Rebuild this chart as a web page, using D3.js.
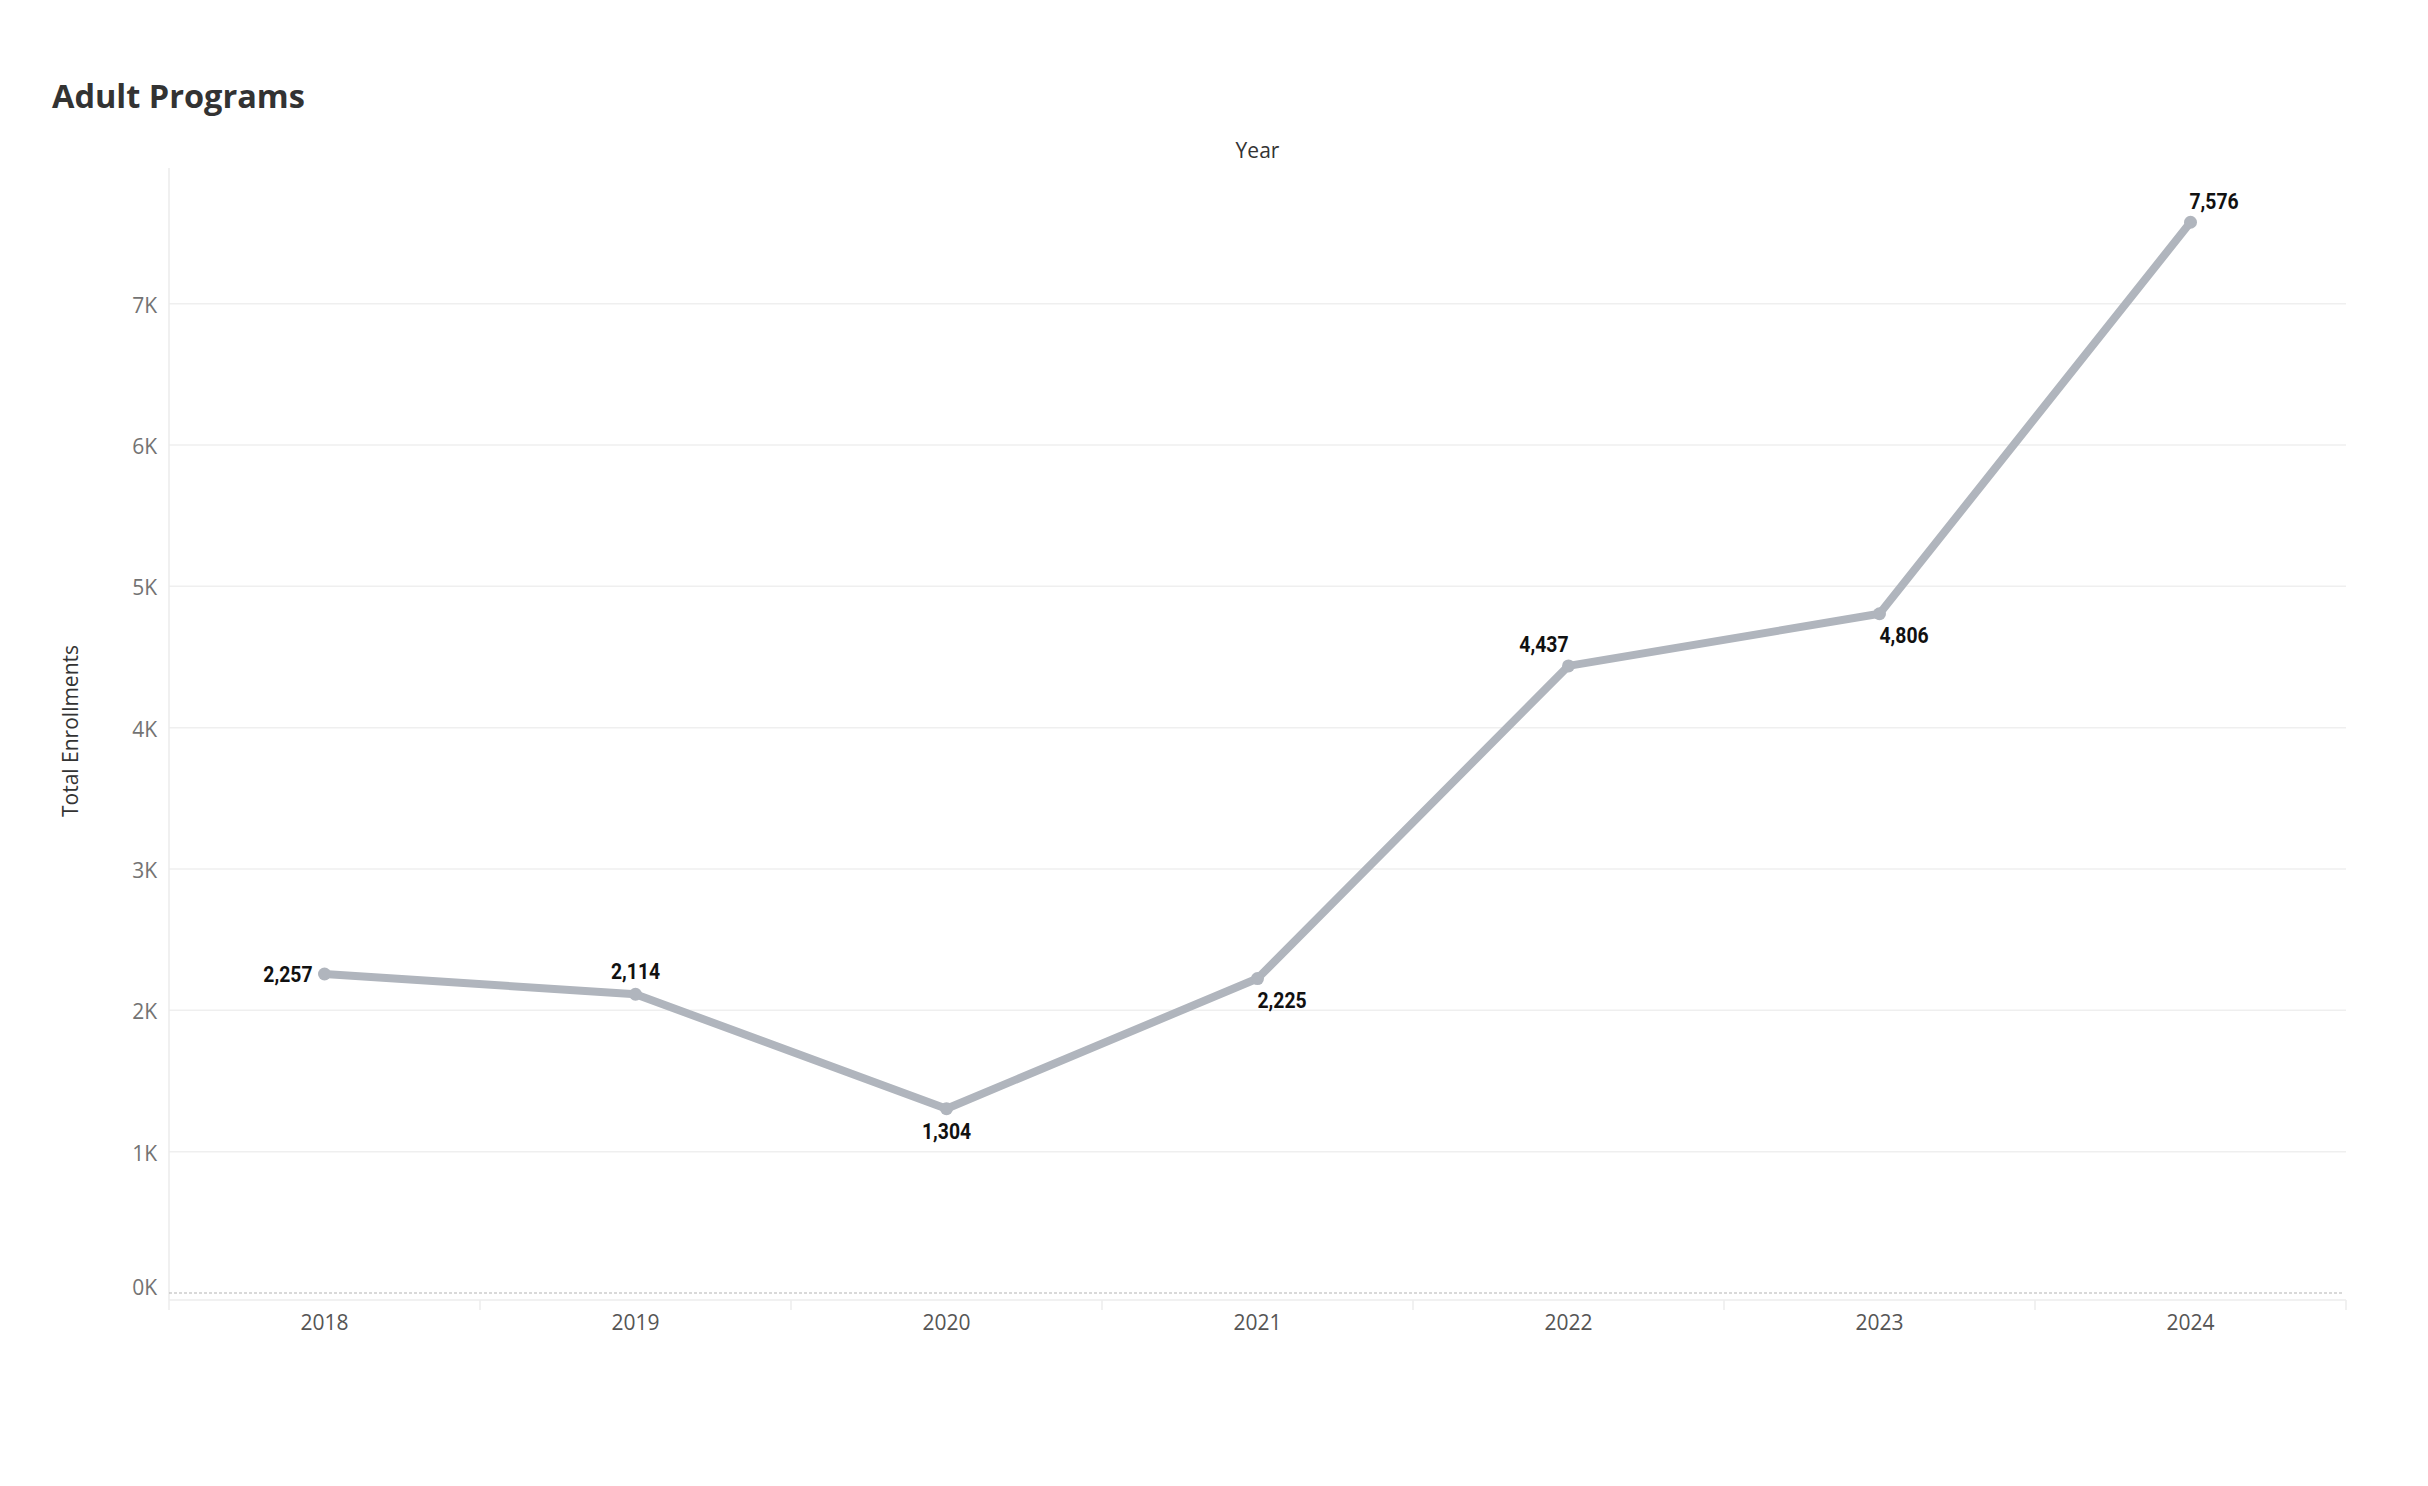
<!DOCTYPE html>
<html>
<head>
<meta charset="utf-8">
<script src="https://cdn.jsdelivr.net/npm/d3@7"></script>
<style>
  html, body { margin: 0; padding: 0; background: #fff; }
  svg { display: block; }
</style>
</head>
<body>
<svg id="chart" width="2428" height="1486"></svg>
<script>
const years = ["2018", "2019", "2020", "2021", "2022", "2023", "2024"];
const enrollments = [2257, 2114, 1304, 2225, 4437, 4806, 7576];
const yTicks = [0, 1000, 2000, 3000, 4000, 5000, 6000, 7000];
// label placement per point
const labelPos = ["left", "above", "below", "belowRight", "aboveLeft", "belowRight", "aboveRight"];

(function () {
const svg = d3.select("#chart");
const pLeft = 169, pRight = 2346, pTop = 168, pBottom = 1293;

const x = d3.scaleBand().domain(years).range([pLeft, pRight]).padding(0);
const y = d3.scaleLinear().domain([0, 7960]).range([pBottom, pTop]);

// Title
svg.append("text")
  .attr("x", 52).attr("y", 108)
  .attr("font-family", "'Open Sans', sans-serif")
  .attr("font-weight", 700)
  .attr("font-size", 32.5)
  .attr("fill", "#333")
  .text("Adult Programs");

// Top axis title
svg.append("text")
  .attr("x", (pLeft + pRight) / 2).attr("y", 158)
  .attr("text-anchor", "middle")
  .attr("font-family", "'Open Sans', sans-serif")
  .attr("font-size", 21)
  .attr("fill", "#333")
  .text("Year");

// Y axis title
svg.append("text")
  .attr("transform", `translate(78, 731) rotate(-90)`)
  .attr("text-anchor", "middle")
  .attr("font-family", "'Open Sans', sans-serif")
  .attr("font-size", 21)
  .attr("fill", "#333")
  .text("Total Enrollments");

// Gridlines
svg.append("g").selectAll("line")
  .data(yTicks.filter(d => d > 0))
  .join("line")
  .attr("x1", pLeft).attr("x2", pRight)
  .attr("y1", d => y(d)).attr("y2", d => y(d))
  .attr("stroke", "#efefef").attr("stroke-width", 1.5);

// Y axis line
svg.append("line")
  .attr("x1", pLeft).attr("x2", pLeft)
  .attr("y1", pTop).attr("y2", 1300)
  .attr("stroke", "#ebebeb").attr("stroke-width", 1.5);

const yAxis = d3.axisLeft(y)
  .tickValues(yTicks)
  .tickFormat(d => d3.format("d")(d / 1000) + "K")
  .tickSize(0)
  .tickPadding(12);
const gy = svg.append("g").attr("transform", `translate(${pLeft},0)`).call(yAxis);
gy.select(".domain").remove();
gy.selectAll("text")
  .attr("font-family", "'Open Sans', sans-serif")
  .attr("font-size", 21)
  .attr("fill", "#737373")
  .attr("dy", (d) => d === 0 ? "0.05em" : "0.4em");

// X axis line and band separators
svg.append("line")
  .attr("x1", pLeft).attr("x2", pRight)
  .attr("y1", 1300).attr("y2", 1300)
  .attr("stroke", "#ececec").attr("stroke-width", 1.5);
svg.append("g").selectAll("line")
  .data(years.map(d => x(d)).concat([x(years[years.length - 1]) + x.bandwidth()]))
  .join("line")
  .attr("x1", d => d).attr("x2", d => d)
  .attr("y1", 1300).attr("y2", 1310)
  .attr("stroke", "#ececec").attr("stroke-width", 1.5);

const xAxis = d3.axisBottom(x).tickSize(0).tickPadding(0);
const gx = svg.append("g").attr("transform", `translate(0,1302)`).call(xAxis);
gx.select(".domain").remove();
gx.selectAll("text")
  .attr("font-family", "'Open Sans', sans-serif")
  .attr("font-size", 21)
  .attr("fill", "#555")
  .attr("dy", "1.35em");

// Zero dashed line
svg.append("line")
  .attr("x1", pLeft).attr("x2", pRight - 3)
  .attr("y1", y(0)).attr("y2", y(0))
  .attr("stroke", "#b4b4b4").attr("stroke-width", 1.2)
  .attr("stroke-dasharray", "3,2");

// Line
const cx = (d, i) => x(years[i]) + x.bandwidth() / 2;
const line = d3.line().x((d, i) => cx(d, i)).y(d => y(d));
svg.append("path")
  .datum(enrollments)
  .attr("d", line)
  .attr("fill", "none")
  .attr("stroke", "#b0b5bd")
  .attr("stroke-width", 8)
  .attr("stroke-linejoin", "round")
  .attr("stroke-linecap", "round");

svg.append("g").selectAll("circle")
  .data(enrollments)
  .join("circle")
  .attr("cx", (d, i) => cx(d, i))
  .attr("cy", d => y(d))
  .attr("r", 6.5)
  .attr("fill", "#b0b5bd");

// Data labels
const fmt = d3.format(",");
const offs = {
  left:       { dx: -12, dy: 8,  anchor: "end" },
  above:      { dx: 0,   dy: -15, anchor: "middle" },
  below:      { dx: 0,   dy: 30, anchor: "middle" },
  belowRight: { dx: 0,   dy: 29, anchor: "start" },
  aboveLeft:  { dx: 0,   dy: -14, anchor: "end" },
  aboveRight: { dx: -1,  dy: -13, anchor: "start" }
};
svg.append("g").selectAll("text")
  .data(enrollments)
  .join("text")
  .attr("transform", (d, i) => `translate(${cx(d, i) + offs[labelPos[i]].dx},${y(d) + offs[labelPos[i]].dy}) scale(0.88,1)`)
  .attr("text-anchor", (d, i) => offs[labelPos[i]].anchor)
  .attr("font-family", "Roboto, 'DejaVu Sans Condensed', sans-serif")
  .attr("font-weight", 700)
  .attr("font-size", 22)
  .attr("fill", "#111")
  .text(d => fmt(d));
})();
</script>
</body>
</html>
